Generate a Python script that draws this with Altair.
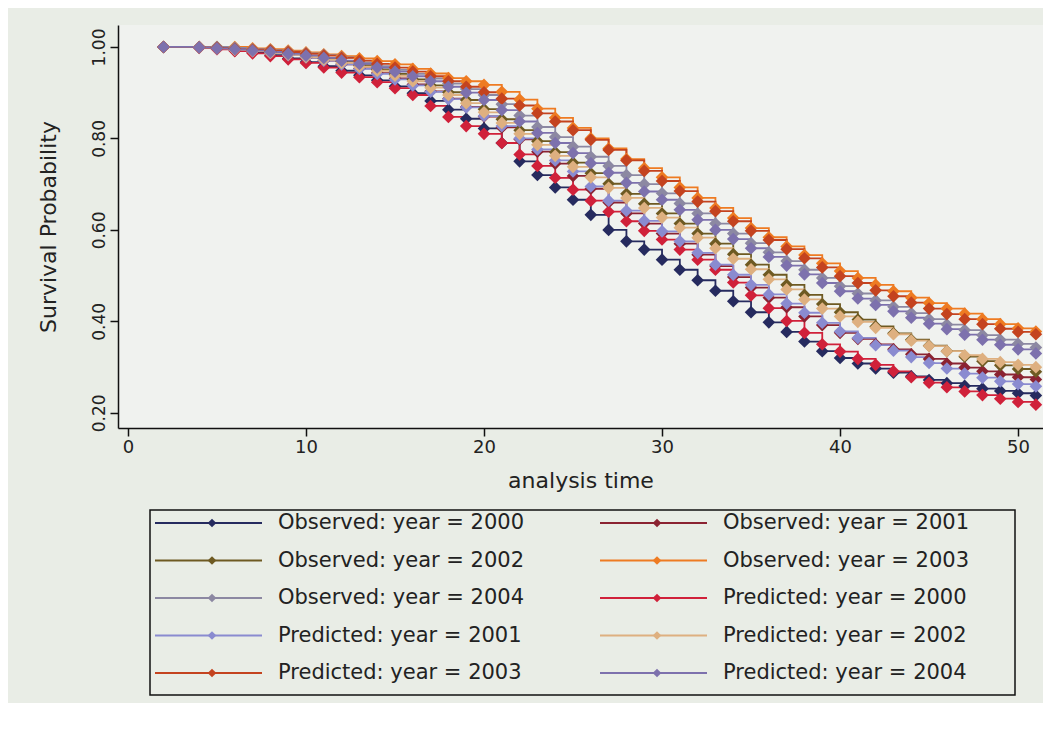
import altair as alt
import pandas as pd

# analysis times at which the curves have markers
times = [2, 4, 5, 6, 7, 8, 9, 10, 11, 12,
         13, 14, 15, 16, 17, 18, 19, 20, 21, 22,
         23, 24, 25, 26, 27, 28, 29, 30, 31, 32,
         33, 34, 35, 36, 37, 38, 39, 40, 41, 42,
         43, 44, 45, 46, 47, 48, 49, 50, 51]

obs_2000 = [1.000, 0.999, 0.996, 0.992, 0.988, 0.982, 0.975, 0.967, 0.958, 0.948,
            0.938, 0.927, 0.914, 0.899, 0.882, 0.863, 0.843, 0.822, 0.790, 0.750,
            0.720, 0.693, 0.666, 0.633, 0.600, 0.575, 0.557, 0.535, 0.513, 0.490,
            0.467, 0.444, 0.420, 0.398, 0.377, 0.356, 0.335, 0.320, 0.308, 0.297,
            0.288, 0.280, 0.272, 0.265, 0.259, 0.253, 0.248, 0.243, 0.238]
obs_2001 = [1.000, 1.000, 0.998, 0.995, 0.992, 0.988, 0.983, 0.977, 0.970, 0.962,
            0.953, 0.943, 0.931, 0.918, 0.903, 0.887, 0.869, 0.848, 0.824, 0.798,
            0.771, 0.745, 0.718, 0.690, 0.660, 0.636, 0.614, 0.592, 0.570, 0.546,
            0.521, 0.497, 0.474, 0.452, 0.431, 0.411, 0.392, 0.375, 0.362, 0.350,
            0.339, 0.328, 0.318, 0.308, 0.299, 0.291, 0.284, 0.278, 0.273]
obs_2002 = [1.000, 1.000, 1.000, 0.997, 0.993, 0.989, 0.985, 0.980, 0.975, 0.968,
            0.960, 0.951, 0.941, 0.929, 0.916, 0.901, 0.884, 0.864, 0.842, 0.818,
            0.794, 0.770, 0.747, 0.724, 0.701, 0.679, 0.657, 0.636, 0.614, 0.592,
            0.570, 0.547, 0.524, 0.502, 0.480, 0.458, 0.438, 0.420, 0.404, 0.389,
            0.374, 0.360, 0.347, 0.335, 0.323, 0.313, 0.304, 0.296, 0.290]
obs_2003 = [1.000, 1.000, 1.000, 1.000, 0.997, 0.995, 0.992, 0.988, 0.984, 0.980,
            0.975, 0.969, 0.962, 0.952, 0.942, 0.932, 0.925, 0.917, 0.902, 0.885,
            0.865, 0.845, 0.823, 0.800, 0.778, 0.755, 0.735, 0.715, 0.693, 0.670,
            0.648, 0.626, 0.604, 0.584, 0.564, 0.545, 0.527, 0.510, 0.495, 0.480,
            0.466, 0.452, 0.440, 0.428, 0.417, 0.405, 0.394, 0.385, 0.378]
obs_2004 = [1.000, 1.000, 1.000, 0.998, 0.995, 0.993, 0.990, 0.986, 0.982, 0.977,
            0.966, 0.958, 0.950, 0.941, 0.931, 0.920, 0.908, 0.895, 0.875, 0.850,
            0.825, 0.803, 0.782, 0.760, 0.740, 0.720, 0.700, 0.680, 0.658, 0.636,
            0.614, 0.592, 0.571, 0.551, 0.532, 0.513, 0.495, 0.477, 0.461, 0.446,
            0.432, 0.418, 0.405, 0.393, 0.381, 0.370, 0.360, 0.351, 0.343]
pred_2000 = [1.000, 0.998, 0.995, 0.991, 0.986, 0.980, 0.973, 0.965, 0.955, 0.944,
             0.934, 0.923, 0.910, 0.895, 0.871, 0.847, 0.827, 0.810, 0.790, 0.765,
             0.740, 0.714, 0.688, 0.664, 0.640, 0.619, 0.598, 0.579, 0.557, 0.535,
             0.513, 0.485, 0.457, 0.429, 0.401, 0.375, 0.350, 0.334, 0.318, 0.305,
             0.291, 0.278, 0.266, 0.256, 0.247, 0.239, 0.231, 0.224, 0.218]
pred_2001 = [1.000, 0.999, 0.997, 0.994, 0.991, 0.987, 0.982, 0.977, 0.970, 0.962,
             0.952, 0.941, 0.929, 0.916, 0.902, 0.886, 0.868, 0.849, 0.827, 0.800,
             0.776, 0.752, 0.728, 0.695, 0.664, 0.642, 0.620, 0.597, 0.575, 0.550,
             0.524, 0.502, 0.480, 0.459, 0.439, 0.419, 0.397, 0.378, 0.364, 0.348,
             0.336, 0.322, 0.309, 0.297, 0.286, 0.277, 0.269, 0.263, 0.258]
pred_2002 = [1.000, 0.999, 0.997, 0.994, 0.991, 0.987, 0.983, 0.978, 0.972, 0.965,
             0.957, 0.948, 0.937, 0.925, 0.911, 0.895, 0.877, 0.857, 0.834, 0.810,
             0.786, 0.762, 0.738, 0.715, 0.692, 0.670, 0.648, 0.627, 0.605, 0.583,
             0.560, 0.537, 0.514, 0.492, 0.470, 0.448, 0.428, 0.411, 0.399, 0.386,
             0.372, 0.358, 0.346, 0.335, 0.326, 0.318, 0.311, 0.305, 0.300]
pred_2003 = [1.000, 0.999, 0.998, 0.996, 0.994, 0.992, 0.989, 0.985, 0.981, 0.976,
             0.970, 0.963, 0.955, 0.946, 0.936, 0.925, 0.913, 0.901, 0.887, 0.872,
             0.855, 0.837, 0.818, 0.797, 0.775, 0.752, 0.729, 0.707, 0.685, 0.662,
             0.641, 0.619, 0.598, 0.578, 0.558, 0.538, 0.518, 0.499, 0.484, 0.468,
             0.455, 0.441, 0.428, 0.416, 0.405, 0.394, 0.384, 0.377, 0.372]
pred_2004 = [1.000, 0.999, 0.997, 0.995, 0.992, 0.989, 0.985, 0.981, 0.976, 0.970,
             0.963, 0.955, 0.946, 0.936, 0.925, 0.913, 0.900, 0.884, 0.862, 0.837,
             0.812, 0.790, 0.768, 0.746, 0.725, 0.703, 0.684, 0.666, 0.644, 0.622,
             0.600, 0.580, 0.560, 0.541, 0.522, 0.503, 0.484, 0.466, 0.450, 0.436,
             0.422, 0.408, 0.395, 0.383, 0.371, 0.360, 0.349, 0.339, 0.330]

series_names = ["Observed: year = 2000", "Observed: year = 2001",
                "Observed: year = 2002", "Observed: year = 2003",
                "Observed: year = 2004", "Predicted: year = 2000",
                "Predicted: year = 2001", "Predicted: year = 2002",
                "Predicted: year = 2003", "Predicted: year = 2004"]
series_values = [obs_2000, obs_2001, obs_2002, obs_2003, obs_2004,
                 pred_2000, pred_2001, pred_2002, pred_2003, pred_2004]
series_colors = ["#262b5f", "#8b2332", "#6e5a22", "#ee7b22", "#8c88a2",
                 "#d0213a", "#8a8bd0", "#deb080", "#c4431f", "#7d71ad"]

x_ticks = [0, 10, 20, 30, 40, 50]
y_ticks = [0.2, 0.4, 0.6, 0.8, 1.0]

rows = []
for order, (name, vals) in enumerate(zip(series_names, series_values)):
    for t, v in zip(times, vals):
        rows.append({"series": name, "order": order, "time": t, "surv": v})
df = pd.DataFrame(rows)

# legend table: two columns, filled row by row (layout in pixels)
LEG_COL_X = [37, 482]          # start of the legend line in each column
LEG_ROW_Y0, LEG_ROW_STEP = 498, 37.5
leg_rows = []
for i, (name, col) in enumerate(zip(series_names, series_colors)):
    c, r = i % 2, i // 2
    x0 = LEG_COL_X[c]
    leg_rows.append({"label": name, "colour": col,
                     "lx0": x0, "lx1": x0 + 107, "mx": x0 + 57,
                     "tx": x0 + 123, "ly": LEG_ROW_Y0 + r * LEG_ROW_STEP})
leg_df = pd.DataFrame(leg_rows)

FONT = "DejaVu Sans"

x_enc = alt.X("time:Q",
              scale=alt.Scale(domain=[-0.56, 51.4], nice=False, zero=False),
              axis=alt.Axis(values=x_ticks, title="analysis time", grid=False,
                            labelFont=FONT, labelFontSize=18, labelColor="#222",
                            titleFont=FONT, titleFontSize=22, titleFontWeight="normal",
                            titleColor="#222", titlePadding=14,
                            domainColor="#111", domainWidth=1.5,
                            tickColor="#111", tickWidth=1.5, tickSize=8,
                            labelPadding=2))
y_enc = alt.Y("surv:Q",
              scale=alt.Scale(domain=[0.167, 1.048], nice=False, zero=False),
              axis=alt.Axis(values=y_ticks, format=".2f", title="Survival Probability",
                            grid=False, labelAngle=270, labelAlign="center",
                            labelBaseline="bottom",
                            labelFont=FONT, labelFontSize=17, labelColor="#222",
                            titleFont=FONT, titleFontSize=22, titleFontWeight="normal",
                            titleColor="#222", titlePadding=30,
                            domainColor="#111", domainWidth=1.5,
                            tickColor="#111", tickWidth=1.5, tickSize=8,
                            labelPadding=2))

color_scale = alt.Scale(domain=series_names, range=series_colors)

base = alt.Chart(df)
lines = base.mark_line(interpolate="step-after", strokeWidth=1.8).encode(
    x=x_enc, y=y_enc,
    color=alt.Color("series:N", scale=color_scale, legend=None),
    detail="series:N", order="time:Q")
points = base.mark_point(shape="diamond", filled=True, size=160, opacity=1).encode(
    x=x_enc, y=y_enc,
    color=alt.Color("series:N", scale=color_scale, legend=None))

# ---- hand-built legend (Stata style, two columns in a framed box) ----
leg = alt.Chart(leg_df)
leg_lines = leg.mark_rule(strokeWidth=1.8, clip=False).encode(
    x=alt.X("lx0:Q", scale=None, axis=None),
    x2="lx1:Q",
    y=alt.Y("ly:Q", scale=None, axis=None),
    color=alt.Color("colour:N", scale=None, legend=None))
leg_marks = leg.mark_point(shape="diamond", filled=True, size=75, opacity=1,
                           clip=False).encode(
    x=alt.X("mx:Q", scale=None, axis=None),
    y=alt.Y("ly:Q", scale=None, axis=None),
    color=alt.Color("colour:N", scale=None, legend=None))
leg_text = leg.mark_text(align="left", baseline="middle", font=FONT,
                         fontSize=21, color="#222", clip=False).encode(
    x=alt.X("tx:Q", scale=None, axis=None),
    y=alt.Y("ly:Q", scale=None, axis=None),
    text="label:N")

frame = alt.Chart(pd.DataFrame({"k": [0]})).mark_rect(
    fill=None, stroke="#111", strokeWidth=1.5, clip=False
).encode(x=alt.value(32), x2=alt.value(897), y=alt.value(485), y2=alt.value(670))

chart = alt.layer(lines, points, leg_lines, leg_marks, leg_text, frame).properties(
    width=925, height=403,
    autosize=alt.AutoSizeParams(type="none"),
    padding={"left": 110, "top": 17, "right": 0, "bottom": 275},
    background="#e9ede6",
).configure_view(stroke=None, fill="#f0f2ef")

chart.save("out.html", embed_options={"renderer": "svg", "actions": False})
